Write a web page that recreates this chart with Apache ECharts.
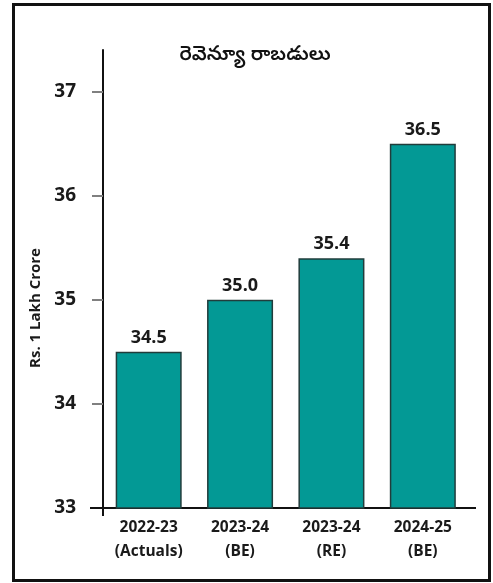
<!DOCTYPE html>
<html>
<head>
<meta charset="utf-8">
<script src="https://cdn.jsdelivr.net/npm/echarts@6/dist/echarts.min.js"></script>
<style>
html,body{margin:0;padding:0;background:#fff;}
#chart{width:493px;height:583px;}
</style>
</head>
<body>
<div id="chart"></div>
<script>
// data
var categories = ['2022-23\n(Actuals)', '2023-24\n(BE)', '2023-24\n(RE)', '2024-25\n(BE)'];
var revenue = [34.5, 35.0, 35.4, 36.5];
var yTicks = [33, 34, 35, 36, 37];
var titleText = 'రెవెన్యూ రాబడులు';
var yName = 'Rs. 1 Lakh Crore';

var font = '"Open Sans", "Noto Sans", sans-serif';

var chart = echarts.init(document.getElementById('chart'), null, {renderer: 'canvas'});
var option = {
	backgroundColor: '#fff',
	animation: false,
	grid: {
		left: 103,
		right: 24.5,
		top: 50,
		bottom: 75,
		outerBoundsMode: 'none'
	},
	xAxis: {
		type: 'category',
		data: categories,
		axisLine: {lineStyle: {color: '#111', width: 2}},
		axisTick: {show: false},
		axisLabel: {
			color: '#1a1a1a',
			fontFamily: font,
			fontWeight: 'bold',
			fontSize: 15.5,
			lineHeight: 24,
			margin: 8
		}
	},
	yAxis: {
		type: 'value',
		min: 33,
		max: 37.4,
		interval: 1,
		name: yName,
		nameLocation: 'middle',
		nameGap: 54,
		nameTextStyle: {
			color: '#1a1a1a',
			fontFamily: font,
			fontWeight: 'bold',
			fontSize: 15,
			padding: [0, 58, 0, 0]
		},
		axisLine: {show: true, lineStyle: {color: '#111', width: 2}},
		axisTick: {
			show: true,
			length: 11,
			customValues: yTicks,
			lineStyle: {color: '#808080', width: 2}
		},
		axisLabel: {
			customValues: yTicks,
			color: '#1a1a1a',
			fontFamily: font,
			fontWeight: 'bold',
			fontSize: 19,
			margin: 27
		},
		splitLine: {show: false}
	},
	series: [{
		type: 'bar',
		data: revenue,
		barWidth: 66,
		itemStyle: {color: '#039995', borderColor: '#213c3b', borderWidth: 1.5},
		label: {
			show: true,
			position: 'top',
			distance: 5,
			color: '#1a1a1a',
			fontFamily: font,
			fontWeight: 'bold',
			fontSize: 18,
			formatter: function(p){
				return p.value.toFixed(1);
			}
		}
	}],
	graphic: [
		{type: 'rect', shape: {x: 13.5, y: 4.5, width: 476, height: 576}, style: {fill: 'none', stroke: '#111', lineWidth: 3}, z: 100},
		{type: 'line', shape: {x1: 90, y1: 508, x2: 104, y2: 508}, style: {stroke: '#111', lineWidth: 2}, z: 100},
		{type: 'line', shape: {x1: 468, y1: 508, x2: 476, y2: 508}, style: {stroke: '#111', lineWidth: 2}, z: 100},
		{type: 'line', shape: {x1: 103, y1: 507, x2: 103, y2: 516}, style: {stroke: '#111', lineWidth: 2}, z: 100},
		{type: 'text', style: {text: titleText, x: 255, y: 57, align: 'center', verticalAlign: 'middle', fill: '#111', font: '600 20px "Noto Sans Telugu", "Noto Sans", sans-serif'}, z: 100}
	]
};
chart.setOption(option);
</script>
</body>
</html>
